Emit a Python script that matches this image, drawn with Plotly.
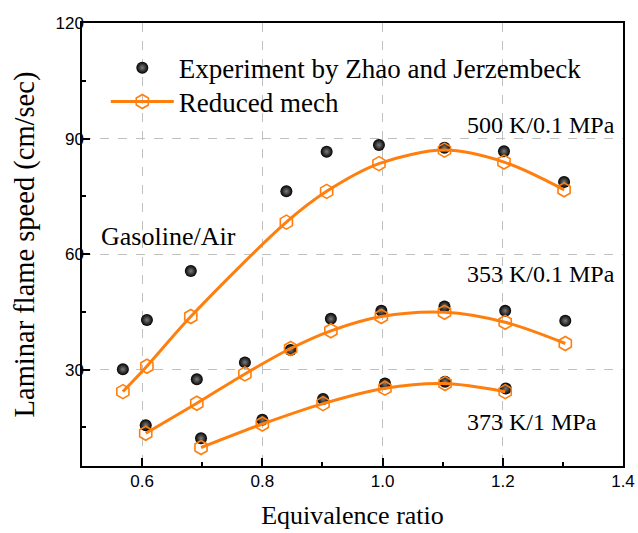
import plotly.graph_objects as go

# ---- data ----
# 500 K / 0.1 MPa
exp500_x = [0.568, 0.608, 0.681, 0.840, 0.907, 0.994, 1.103, 1.202, 1.302]
exp500_y = [30.1, 42.9, 55.6, 76.3, 86.6, 88.3, 87.6, 86.7, 78.7]
sim500_x = [0.568, 0.608, 0.681, 0.840, 0.907, 0.994, 1.103, 1.202, 1.302]
sim500_y = [24.3, 30.9, 43.8, 68.3, 76.3, 83.5, 87.0, 83.9, 76.7]

# 353 K / 0.1 MPa
exp353_x = [0.606, 0.691, 0.771, 0.847, 0.914, 0.998, 1.103, 1.204, 1.304]
exp353_y = [15.6, 27.5, 31.9, 35.1, 43.2, 45.3, 46.4, 45.3, 42.7]
sim353_x = [0.606, 0.691, 0.771, 0.847, 0.914, 0.998, 1.103, 1.204, 1.304]
sim353_y = [13.5, 21.3, 28.9, 35.5, 40.1, 43.8, 44.9, 42.3, 36.8]

# 373 K / 1 MPa
exp373_x = [0.698, 0.800, 0.901, 1.004, 1.104, 1.205]
exp373_y = [12.2, 17.0, 22.4, 26.4, 26.9, 25.1]
sim373_x = [0.698, 0.800, 0.901, 1.004, 1.104, 1.204]
sim373_y = [9.8, 15.9, 21.2, 25.2, 26.4, 24.3]

labels = ["Experiment by Zhao and Jerzembeck", "Reduced mech"]
cond_labels = ["500 K/0.1 MPa", "353 K/0.1 MPa", "373 K/1 MPa", "Gasoline/Air"]
cond_pos = [(1.39, 93.5, "right", 24), (1.39, 54.9, "right", 24),
            (1.36, 16.3, "right", 24), (0.529, 64.6, "left", 26)]

x_ticks = [0.6, 0.8, 1.0, 1.2, 1.4]
y_ticks = [30, 60, 90, 120]

ORANGE = "#FF7F0E"
SERIF = "Liberation Serif, Times New Roman, serif"
SANS = "Liberation Sans, Arial, sans-serif"

fig = go.Figure()

sims = [(sim500_x, sim500_y), (sim353_x, sim353_y), (sim373_x, sim373_y)]
exps = [(exp500_x, exp500_y), (exp353_x, exp353_y), (exp373_x, exp373_y)]

for i, (ex, ey) in enumerate(exps):
    fig.add_trace(go.Scatter(
        x=ex, y=ey, mode="markers", name=labels[0], showlegend=(i == 0),
        legend="legend",
        marker=dict(symbol="circle", size=12, color="#000000",
                    gradient=dict(type="radial", color="#7c7c7c"),
                    line=dict(width=0))))

for i, (sx, sy) in enumerate(sims):
    fig.add_trace(go.Scatter(
        x=sx, y=sy, mode="lines+markers", name=labels[1], showlegend=(i == 0),
        legend="legend2",
        line=dict(color=ORANGE, width=3, shape="spline", smoothing=0.9),
        marker=dict(symbol="hexagon-open", size=14, color=ORANGE,
                    line=dict(width=1.6, color=ORANGE))))

for txt, (ax, ay, anc, fs) in zip(cond_labels, cond_pos):
    fig.add_annotation(x=ax, y=ay, xref="x", yref="y", text=txt, showarrow=False,
                       xanchor=anc, yanchor="middle",
                       font=dict(family=SERIF, size=fs, color="#000000"))

axis_common = dict(
    showline=True, linecolor="#000000", linewidth=1.5, mirror=True,
    ticks="inside", ticklen=8, tickwidth=1.5, tickcolor="#000000",
    showgrid=True, gridcolor="#c0c0c0", griddash="dash", gridwidth=1,
    zeroline=False, automargin=False,
    tickfont=dict(family=SANS, size=17, color="#000000"),
)

fig.update_xaxes(
    range=[0.5, 1.4], tickvals=x_ticks, ticktext=["%.1f" % v for v in x_ticks],
    ticklabelstandoff=-1,
    minor=dict(ticks="inside", ticklen=4, tickwidth=1.5, tickcolor="#000000",
               dtick=0.1, tick0=0.5, showgrid=False),
    title=dict(text="Equivalence ratio", font=dict(family=SERIF, size=26, color="#000000"),
               standoff=16),
    **axis_common)
fig.update_yaxes(
    range=[5, 120], tickvals=y_ticks, ticktext=[str(v) for v in y_ticks],
    ticklabelstandoff=-7,
    minor=dict(ticks="inside", ticklen=4, tickwidth=1.5, tickcolor="#000000",
               tickvals=[15, 45, 75, 105], showgrid=False),
    title=dict(text="Laminar flame speed (cm/sec)", font=dict(family=SERIF, size=28.5, color="#000000"),
               standoff=12),
    **axis_common)

legend_common = dict(xanchor="left", yanchor="top",
                     bgcolor="rgba(0,0,0,0)", borderwidth=0,
                     font=dict(family=SERIF, size=27, color="#000000"),
                     itemwidth=63)

fig.update_layout(
    width=638, height=533,
    margin=dict(l=82, r=15, t=23, b=67, pad=0),
    paper_bgcolor="#ffffff", plot_bgcolor="#ffffff",
    showlegend=True,
    legend=dict(x=0.044, y=0.9535, **legend_common),
    legend2=dict(x=0.044, y=0.877, **legend_common),
)

fig.write_html("out.html")
